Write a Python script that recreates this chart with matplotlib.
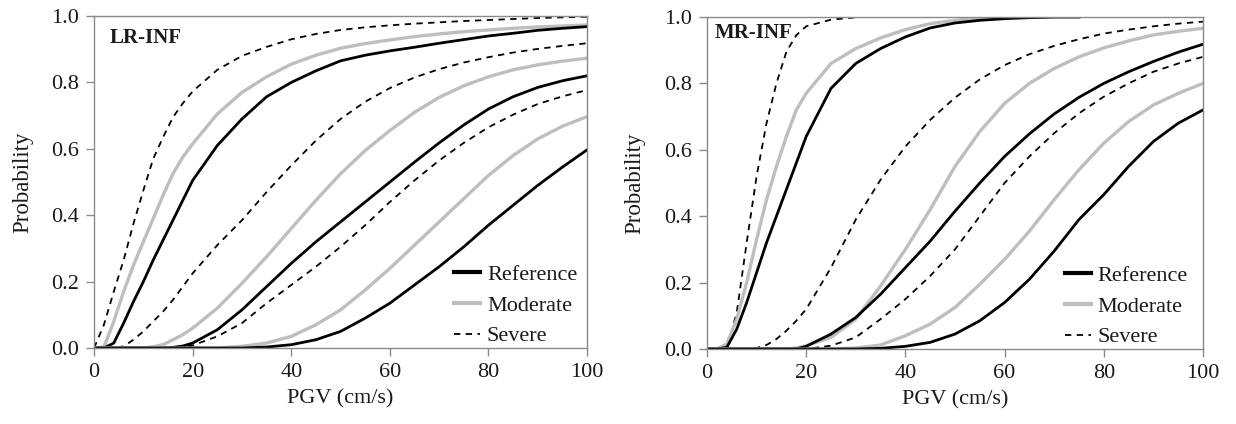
import matplotlib.pyplot as plt

plt.rcParams['font.family'] = ['Liberation Serif', 'DejaVu Serif']

nan = float('nan')

# PGV grid (cm/s) the curves were read at
pgv = [0, 2, 4, 6, 8, 10, 12, 14, 16, 18, 20,
       25, 30, 35, 40, 45, 50, 55, 60, 65, 70, 75, 80, 85, 90, 95, 100]

# LR-INF, three damage states: sev = Severe, mod = Moderate, ref = Reference
lr_sev_1 = [0, 0.07, 0.17, 0.265, 0.375, 0.475, 0.57, 0.635, 0.695, 0.737, 0.773,
            0.838, 0.88, 0.907, 0.93, 0.946, 0.958, 0.966, 0.972, 0.977, 0.981, 0.985, 0.988, 0.991, 0.994, 0.996, 0.998]
lr_mod_1 = [0, 0.003, 0.08, 0.17, 0.25, 0.32, 0.39, 0.46, 0.525, 0.575, 0.615,
            0.705, 0.77, 0.817, 0.855, 0.882, 0.903, 0.917, 0.928, 0.938, 0.946, 0.953, 0.958, 0.963, 0.967, 0.97, 0.973]
lr_ref_1 = [0, 0, 0.015, 0.075, 0.14, 0.2, 0.265, 0.325, 0.385, 0.445, 0.505,
            0.61, 0.69, 0.757, 0.8, 0.835, 0.865, 0.882, 0.895, 0.906, 0.918, 0.929, 0.94, 0.948, 0.957, 0.963, 0.968]
lr_sev_2 = [0, 0, 0, 0.005, 0.025, 0.05, 0.08, 0.11, 0.145, 0.185, 0.225,
            0.31, 0.385, 0.47, 0.55, 0.625, 0.69, 0.742, 0.783, 0.815, 0.84, 0.86, 0.876, 0.89, 0.901, 0.91, 0.918]
lr_mod_2 = [0, 0, 0, 0, 0, 0, 0.004, 0.01, 0.025, 0.04, 0.06,
            0.12, 0.195, 0.275, 0.36, 0.445, 0.525, 0.595, 0.655, 0.71, 0.755, 0.79, 0.817, 0.838, 0.853, 0.864, 0.873]
lr_ref_2 = [0, 0, 0, 0, 0, 0, 0, 0, 0.002, 0.006, 0.015,
            0.055, 0.115, 0.185, 0.255, 0.32, 0.38, 0.44, 0.5, 0.56, 0.618, 0.672, 0.72, 0.757, 0.785, 0.805, 0.82]
lr_sev_3 = [0, 0, 0, 0, 0, 0, 0, 0, 0, 0.003, 0.008,
            0.035, 0.075, 0.135, 0.19, 0.245, 0.305, 0.37, 0.44, 0.505, 0.565, 0.618, 0.665, 0.703, 0.735, 0.758, 0.777]
lr_mod_3 = [0, 0, 0, 0, 0, 0, 0, 0, 0, 0, 0,
            0, 0.005, 0.015, 0.035, 0.07, 0.115, 0.175, 0.24, 0.31, 0.38, 0.45, 0.52, 0.58, 0.63, 0.668, 0.697]
lr_ref_3 = [0, 0, 0, 0, 0, 0, 0, 0, 0, 0, 0,
            0, 0, 0.003, 0.01, 0.025, 0.05, 0.09, 0.135, 0.19, 0.245, 0.305, 0.37, 0.43, 0.49, 0.545, 0.597]

# MR-INF (the first-state curves stop once they sit on 1.0)
mr_sev_1 = [0, 0, 0.0, 0.11, 0.32, 0.52, 0.68, 0.8, 0.895, 0.945, 0.972,
            0.992, 0.999, nan, nan, nan, nan, nan, nan, nan, nan, nan, nan, nan, nan, nan, nan]
mr_mod_1 = [0, 0, 0.015, 0.09, 0.2, 0.33, 0.45, 0.55, 0.64, 0.72, 0.77,
            0.86, 0.905, 0.937, 0.962, 0.98, 0.99, 0.996, 1, 1, 1, 1, nan, nan, nan, nan, nan]
mr_ref_1 = [0, 0, 0.005, 0.06, 0.14, 0.23, 0.32, 0.4, 0.48, 0.56, 0.64,
            0.785, 0.86, 0.905, 0.94, 0.967, 0.982, 0.99, 0.995, 0.998, 1, 1, nan, nan, nan, nan, nan]
mr_sev_2 = [0, 0, 0, 0, 0, 0.003, 0.012, 0.03, 0.055, 0.085, 0.12,
            0.245, 0.39, 0.51, 0.61, 0.69, 0.757, 0.812, 0.855, 0.888, 0.913, 0.933, 0.95, 0.962, 0.972, 0.98, 0.986]
mr_mod_2 = [0, 0, 0, 0, 0, 0, 0, 0, 0, 0.003, 0.01,
            0.035, 0.09, 0.19, 0.3, 0.42, 0.55, 0.655, 0.74, 0.8, 0.845, 0.88, 0.907, 0.928, 0.946, 0.957, 0.966]
mr_ref_2 = [0, 0, 0, 0, 0, 0, 0, 0, 0, 0, 0.008,
            0.045, 0.095, 0.165, 0.245, 0.325, 0.415, 0.5, 0.58, 0.648, 0.708, 0.758, 0.8, 0.835, 0.866, 0.894, 0.918]
mr_sev_3 = [0, 0, 0, 0, 0, 0, 0, 0, 0, 0, 0,
            0.01, 0.035, 0.09, 0.15, 0.22, 0.3, 0.4, 0.5, 0.58, 0.65, 0.71, 0.76, 0.8, 0.835, 0.86, 0.88]
mr_mod_3 = [0, 0, 0, 0, 0, 0, 0, 0, 0, 0, 0,
            0, 0.003, 0.012, 0.04, 0.075, 0.125, 0.195, 0.27, 0.355, 0.45, 0.54, 0.62, 0.685, 0.735, 0.77, 0.8]
mr_ref_3 = [0, 0, 0, 0, 0, 0, 0, 0, 0, 0, 0,
            0, 0, 0.002, 0.008, 0.02, 0.045, 0.085, 0.14, 0.21, 0.295, 0.39, 0.465, 0.55, 0.625, 0.68, 0.72]

xticks = [0, 20, 40, 60, 80, 100]
yticks = [0.0, 0.2, 0.4, 0.6, 0.8, 1.0]
legend_labels = ['Reference', 'Moderate', 'Severe']

gray = '#bebebe'
spine = '#8a8a8a'
txt = '#1a1a1a'
dash = (0, (3.5, 3))

fig = plt.figure(figsize=(12.36, 4.24), dpi=100)
ax1 = fig.add_axes([0.0761, 0.1792, 0.3989, 0.7830])
ax2 = fig.add_axes([0.5720, 0.1769, 0.4013, 0.7830])


def panel(ax, sevs, mods, refs, title, tx, ty, leg_x):
    for s, m, r in zip(sevs, mods, refs):
        ax.plot(pgv, s, color='k', lw=1.3, ls=dash)
        ax.plot(pgv, m, color=gray, lw=2.4)
        ax.plot(pgv, r, color='k', lw=2.0)
    h_ref, = ax.plot([], [], color='k', lw=3.0)
    h_mod, = ax.plot([], [], color=gray, lw=3.0)
    h_sev, = ax.plot([], [], color='k', lw=1.3, ls=dash)
    ax.legend([h_ref, h_mod, h_sev], legend_labels, loc='lower right',
              bbox_to_anchor=(leg_x, 0.005), frameon=False, fontsize=16,
              handlelength=1.2, handletextpad=0.3, labelspacing=0.45,
              borderpad=0, borderaxespad=0, labelcolor=txt)
    ax.text(tx, ty, title, transform=ax.transAxes, fontsize=15,
            fontweight='bold', color=txt, va='center', ha='left')
    ax.set_xlim(0, 100)
    ax.set_ylim(0, 1)
    ax.set_xticks(xticks)
    ax.set_yticks(yticks)
    ax.set_yticklabels(['%.1f' % v for v in yticks])
    for sp in ax.spines.values():
        sp.set_color(spine)
        sp.set_linewidth(1.0)
    ax.tick_params(direction='out', length=6, width=1, color=spine,
                   labelsize=16, labelcolor=txt, pad=5)
    ax.set_xlabel('PGV (cm/s)', fontsize=16, color=txt)
    ax.set_ylabel('Probability', fontsize=16.5, color=txt)
    ax.xaxis.set_label_coords(0.5, -0.125)
    ax.yaxis.set_label_coords(-0.124, 0.5)


panel(ax1, [lr_sev_1, lr_sev_2, lr_sev_3], [lr_mod_1, lr_mod_2, lr_mod_3],
      [lr_ref_1, lr_ref_2, lr_ref_3], 'LR-INF', 0.032, 0.934, 0.98)
panel(ax2, [mr_sev_1, mr_sev_2, mr_sev_3], [mr_mod_1, mr_mod_2, mr_mod_3],
      [mr_ref_1, mr_ref_2, mr_ref_3], 'MR-INF', 0.016, 0.952, 0.97)

fig.savefig('out.png', dpi=100)
